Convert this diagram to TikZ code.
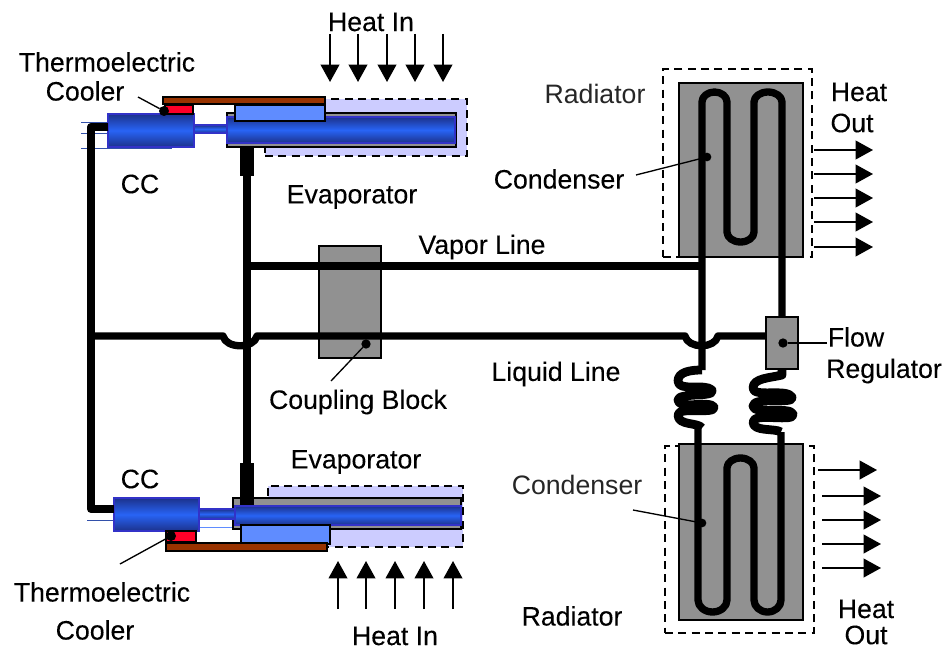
\documentclass[tikz,border=0pt]{standalone}
\usepackage{fontspec}
\setmainfont{Liberation Sans}[FakeBold=0.15]
\newfontfamily\plainf{Liberation Sans}
\usetikzlibrary{arrows.meta}
\definecolor{lav}{RGB}{204,204,255}
\definecolor{greyb}{RGB}{145,145,145}
\definecolor{brownb}{RGB}{153,51,0}
\definecolor{redb}{RGB}{255,0,40}
\definecolor{lblue}{RGB}{95,140,255}
\definecolor{bdark}{RGB}{28,50,140}
\definecolor{bmid}{RGB}{40,100,245}
\definecolor{bedge}{RGB}{50,50,200}
\definecolor{thinb}{RGB}{50,80,170}
\newcommand{\pxbox}[6]{%
  \pgfmathsetmacro{\bw}{(#4-#2)*0.75}\pgfmathsetmacro{\bh}{(#5-#3)*0.75}%
  \pgfmathsetmacro{\cx}{(#2+#4)/2}\pgfmathsetmacro{\cy}{(#3+#5)/2}%
  \node[#6,minimum width=\bw pt,minimum height=\bh pt] (#1) at (\cx,\cy) {};}
\tikzset{
  blk/.style={inner sep=0pt,outer sep=0pt,rectangle},
  dashbox/.style={blk,draw=black,line width=1.5pt,dash pattern=on 6pt off 4pt},
  lavbox/.style={dashbox,fill=lav},
  radbox/.style={dashbox,line width=1.1pt},
  greybox/.style={blk,fill=greyb,draw=black,line width=1.3pt},
  brownbox/.style={blk,fill=brownb,draw=black,line width=1.5pt},
  redbox/.style={blk,fill=redb,draw=black,line width=1.2pt},
  lightbox/.style={blk,fill=lblue,draw=black,line width=1.3pt},
  bluebox/.style={blk,top color=bdark,bottom color=bdark,middle color=bmid,draw=bedge,line width=1pt},
  pipe/.style={line width=5.5pt,black,line join=round},
  widepipe/.style={line width=6.2pt,black,line join=round},
  coil/.style={line width=6.6pt,black,line join=round},
  stub/.style={blk,fill=black},
  thinline/.style={thinb,line width=.7pt},
  leader/.style={black,line width=1pt},
  dotm/.style={circle,fill=black,inner sep=0pt,outer sep=0pt,minimum size=#1},
  heat/.style={black,line width=1.3pt,-{Triangle[length=13pt,width=14pt]}},
  lab/.style={inner sep=0pt,font=\fontsize{20}{23}\selectfont,text=black},
  thinlab/.style={inner sep=0pt,font=\plainf\fontsize{20}{23}\selectfont,text=black!85},
}
\begin{document}
\begin{tikzpicture}[x=.75pt,y=-.75pt]
\useasboundingbox (0,0) rectangle (944,649);
% radiator outlines
\pxbox{rdu}{663}{69}{812}{257}{radbox}
\pxbox{rdl}{665}{446}{814}{633}{radbox}
\pxbox{ru}{679}{83}{803}{257}{greybox}
\pxbox{rl}{679}{444}{803}{620}{greybox}
% coupling block
\pxbox{cb}{319}{246}{381}{358}{greybox}
% top evaporator
\pxbox{lavt}{265}{99}{467}{156}{lavbox}
\pxbox{gt}{227}{113}{456}{147}{greybox}
\draw[thinline] (81,122) -- (108,122) (81,133) -- (108,133) (81,148) -- (172,148);
\pxbox{ccta}{194}{125}{227}{133}{bluebox}
\pxbox{et}{227}{117}{455}{143}{bluebox}
\pxbox{cct}{108}{114}{194}{147}{bluebox}
\pxbox{redt}{165}{105}{193}{114}{redbox}
\pxbox{lbt}{235}{105}{325}{121}{lightbox}
\pxbox{brt}{163}{97}{325}{104}{brownbox}
% bottom evaporator
\pxbox{lavb}{268}{486}{463}{547}{lavbox}
\pxbox{gb}{233}{498}{461}{529}{greybox}
\draw[thinline] (87,520) -- (114,520);
\draw[thinline,lblue] (199,527) -- (232,527);
\pxbox{ccbt}{199}{509}{235}{519}{bluebox}
\pxbox{eb}{235}{506}{461}{525}{bluebox}
\pxbox{ccb}{114}{498}{199}{531}{bluebox}
\pxbox{redbt}{166}{531}{196}{542}{redbox}
\pxbox{lbb}{241}{525}{330}{544}{lightbox}
\pxbox{brb}{166}{543}{327}{551}{brownbox}
% pipes
\coordinate (jvt) at (247,147);
\coordinate (jvb) at (247,505);
\coordinate (jv) at (247,266);
\coordinate (cv) at (702,266);
\coordinate (jl) at (91,336);
\draw[widepipe] (cct.west |- 0,127) -- (91,127) -- (91,509) -- (ccb.west |- 0,509);
\draw[pipe] (jvt) -- (jvb);
\draw[pipe] (jv) -- (cv);
\draw[pipe] (jl) -- (223,336) .. controls (226,349) and (254,349) .. (257,336) -- (685,336) .. controls (688,349) and (715,349) .. (718,336) -- (766,336);
\pxbox{stt}{240}{147}{254}{176}{stub}
\pxbox{stb}{240}{463}{254}{505}{stub}
% upper condenser
\draw[pipe] (702,370) -- (702,102) arc[start angle=180,end angle=360,x radius=12.5,y radius=10] -- (727,232) arc[start angle=180,end angle=0,x radius=13.5,y radius=10] -- (754,102) arc[start angle=180,end angle=360,x radius=14,y radius=10] -- (782,317);
% lower condenser
\draw[pipe] (698,425) -- (698,600) arc[start angle=180,end angle=0,x radius=14.5,y radius=12] -- (727,468) arc[start angle=180,end angle=360,x radius=13.5,y radius=10] -- (754,600) arc[start angle=180,end angle=0,x radius=13.5,y radius=12] -- (781,432);
% coils
\draw[coil] (702,370) .. controls (690,370) and (678,372) .. (678,381) .. controls (678,392) and (705,383) .. (712,390) .. controls (716,398) and (678,392) .. (678,400) .. controls (678,410) and (710,400) .. (714,407) .. controls (716,415) and (678,406) .. (678,415) .. controls (678,426) and (698,422) .. (702,428);
\draw[coil] (782,369) -- (782,375) .. controls (770,378) and (753,378) .. (753,388) .. controls (753,398) and (787,388) .. (792,397) .. controls (796,405) and (753,396) .. (753,406) .. controls (753,415) and (790,406) .. (793,414) .. controls (796,423) and (753,412) .. (753,422) .. controls (753,432) and (775,428) .. (781,432);
\pxbox{fr}{766}{317}{798}{369}{greybox}
% heat arrows
\foreach \a/\x in {a/330,b/358,c/387,d/415,e/443}{
  \coordinate (ti\a) at (\x,34); \coordinate (th\a) at (\x,82);
  \draw[heat] (ti\a) -- (th\a);}
\foreach \a/\x in {a/338,b/366,c/395,d/424,e/453}{
  \coordinate (bi\a) at (\x,609); \coordinate (bh\a) at (\x,561);
  \draw[heat] (bi\a) -- (bh\a);}
\foreach \a/\y in {a/150,b/174,c/198,d/222,e/247}{
  \coordinate (ui\a) at (814,\y); \coordinate (uh\a) at (873,\y);
  \draw[heat] (ui\a) -- (uh\a);}
\coordinate (lia) at (818,470); \coordinate (lha) at (877,470);
\draw[heat] (lia) -- (lha);
\foreach \a/\y in {b/496,c/520,d/544,e/568}{
  \coordinate (li\a) at (822,\y); \coordinate (lh\a) at (881,\y);
  \draw[heat] (li\a) -- (lh\a);}
% labels
\node[lab] (hit) at (371,22) {Heat In};
\node[lab] (tet) at (107,62) {Thermoelectric};
\node[lab] (cot) at (85,91) {Cooler};
\node[lab] (cc1) at (140,184) {CC};
\node[lab] (ev1) at (352,197) {Evaporator};
\node[thinlab] (ra1) at (595,94) {Radiator};
\node[lab] (ho1) at (859,92) {Heat};
\node[lab] (ou1) at (852,123) {Out};
\node[lab] (cn1) at (559,179) {Condenser};
\node[lab] (vl) at (482,247) {Vapor Line};
\node[lab] (fl) at (856,337) {Flow};
\node[lab] (reg) at (884,371) {Regulator};
\node[lab] (ll) at (556,374) {Liquid Line};
\node[lab] (cbl) at (358,402) {Coupling Block};
\node[lab] (cc2) at (140,479) {CC};
\node[lab] (ev2) at (356,462) {Evaporator};
\node[lab] (teb) at (102,592) {Thermoelectric};
\node[lab] (cob) at (95,630) {Cooler};
\node[lab] (hib) at (395,636) {Heat In};
\node[thinlab] (cn2) at (577,485) {Condenser};
\node[lab] (ra2) at (572,616) {Radiator};
\node[lab] (ho2) at (866,609) {Heat};
\node[lab] (ou2) at (866,635) {Out};
% leaders
\node[dotm=7.5pt] (d1) at (164,111) {};
\node[dotm=7.5pt] (d2) at (171,536) {};
\node[dotm=6.5pt] (d3) at (707,157) {};
\node[dotm=6.5pt] (d4) at (702,523) {};
\node[dotm=7pt] (d5) at (783,343) {};
\node[dotm=7pt] (d6) at (366,344) {};
\coordinate (l1) at (138,97);
\coordinate (l2) at (120,564);
\coordinate (l3) at (636,175);
\coordinate (l4) at (633,510);
\coordinate (l5) at (827,343);
\coordinate (l6) at (331,381);
\draw[leader] (l1) -- (d1);
\draw[leader] (l2) -- (d2);
\draw[leader] (l3) -- (d3);
\draw[leader] (l4) -- (d4);
\draw[leader] (l5) -- (d5);
\draw[leader] (l6) -- (d6);
\end{tikzpicture}
\end{document}
